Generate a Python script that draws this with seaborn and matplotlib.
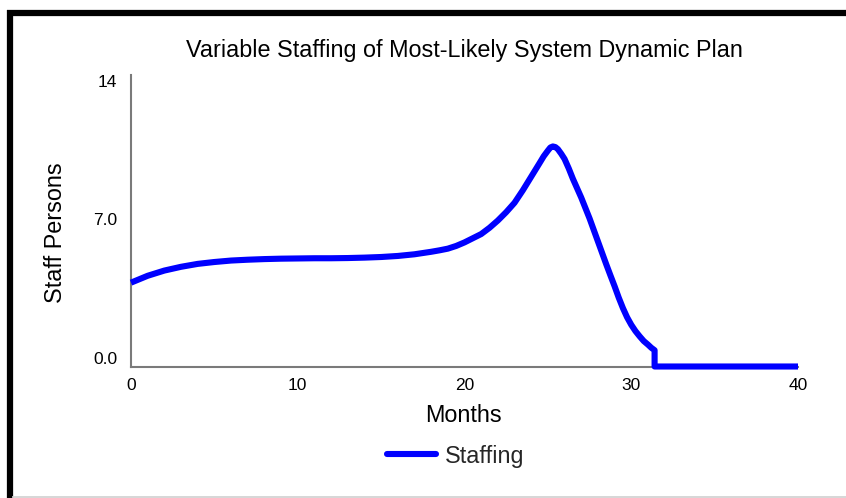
import matplotlib
matplotlib.use("Agg")
import matplotlib.pyplot as plt
from matplotlib.lines import Line2D
import pandas as pd
import seaborn as sns

# Staffing profile (persons) over project months
months = [0, 1, 2, 3, 4, 5, 6, 7, 8, 9, 10, 11, 12, 13, 14, 15, 16, 17, 18, 18.5,
          19, 19.5, 20, 20.5, 21, 21.5, 22, 22.5, 23, 23.5, 24, 24.5, 24.75, 25,
          25.15, 25.3, 25.45, 25.6, 25.8, 26, 26.25, 26.5, 26.75, 27, 27.25, 27.5,
          27.75, 28, 28.25, 28.5, 28.75, 29, 29.25, 29.5, 29.75, 30, 30.25, 30.5,
          30.75, 31, 31.2, 31.4, 31.4, 40]
staff = [4.02, 4.35, 4.6, 4.78, 4.92, 5.01, 5.08, 5.12, 5.15, 5.17, 5.18, 5.19,
         5.19, 5.2, 5.22, 5.25, 5.3, 5.38, 5.5, 5.57, 5.65, 5.78, 5.95, 6.15,
         6.35, 6.65, 7.0, 7.4, 7.85, 8.45, 9.1, 9.75, 10.08, 10.35, 10.5, 10.55,
         10.52, 10.42, 10.2, 9.95, 9.5, 9.0, 8.55, 8.1, 7.6, 7.1, 6.55, 6.0,
         5.45, 4.9, 4.37, 3.85, 3.3, 2.8, 2.36, 2.0, 1.7, 1.45, 1.22, 1.05, 0.9,
         0.78, 0.0, 0.0]

x_ticks = [0, 10, 20, 30, 40]
y_ticks = [0, 7, 14]
y_tick_labels = ["0.0", "7.0", "14"]

df = pd.DataFrame({"Months": months, "Staff": staff, "Series": "Staffing"})

sns.set_theme(style="white")
plt.rcParams["font.family"] = ["Liberation Sans", "DejaVu Sans"]

W, H = 846, 498
fig = plt.figure(figsize=(W / 100, H / 100), dpi=100)
ax = fig.add_axes([131 / W, 1 - 366.5 / H, (798 - 131) / W, (366.5 - 74.5) / H])

sns.lineplot(data=df, x="Months", y="Staff", hue="Series", palette=["#0000FF"],
             estimator=None, sort=False, linewidth=4.4, ax=ax, legend=False,
             clip_on=False)
for ln in ax.lines:
    ln.set_solid_joinstyle("round")
    ln.set_solid_capstyle("butt")
    ln.set_zorder(5)

ax.set_xlim(0, 40)
ax.set_ylim(0, 14)
ax.set_xticks(x_ticks)
ax.set_xticklabels([str(v) for v in x_ticks])
ax.set_yticks(y_ticks)
ax.set_yticklabels(y_tick_labels)
ax.tick_params(axis="both", length=0, labelsize=12.5, colors="black")
ax.tick_params(axis="y", pad=10)
ax.tick_params(axis="x", pad=8)
vas = ["bottom", "center", "top"]
for lab, va in zip(ax.get_yticklabels(), vas):
    lab.set_va(va)

for side in ["top", "right"]:
    ax.spines[side].set_visible(False)
for side in ["left", "bottom"]:
    ax.spines[side].set_color("#7a7a7a")
    ax.spines[side].set_linewidth(1.5)
ax.set_xlabel("")
ax.set_ylabel("")

fig.text(464 / W, 1 - 50 / H, "Variable Staffing of Most-Likely System Dynamic Plan",
         ha="center", va="center", fontsize=16.8, color="black")
fig.text(463 / W, 1 - 416 / H, "Months", ha="center", va="center",
         fontsize=16.8, color="black")
fig.text(55 / W, 1 - 233 / H, "Staff Persons", ha="center", va="center",
         rotation=90, fontsize=16.8, color="black")

handle = Line2D([], [], color="#0000FF", linewidth=4.4)
fig.legend([handle], ["Staffing"], loc="center", bbox_to_anchor=(455.5 / W, 1 - 456 / H),
           frameon=False, fontsize=16.8, handlelength=2.1, handletextpad=0.4)

# Outer frame: heavy left and top edges, light bottom edge
fig.add_artist(Line2D([9.5 / W, 9.5 / W], [0, 1 - 10 / H], transform=fig.transFigure,
                      color="black", linewidth=4.5, solid_capstyle="butt"))
fig.add_artist(Line2D([7 / W, 1], [1 - 13 / H, 1 - 13 / H], transform=fig.transFigure,
                      color="black", linewidth=4.5, solid_capstyle="butt"))
fig.add_artist(Line2D([12 / W, 1], [1 - 496.5 / H, 1 - 496.5 / H], transform=fig.transFigure,
                      color="#d0d0d0", linewidth=1.2, solid_capstyle="butt"))

fig.savefig("out.png", dpi=100, facecolor="white")
